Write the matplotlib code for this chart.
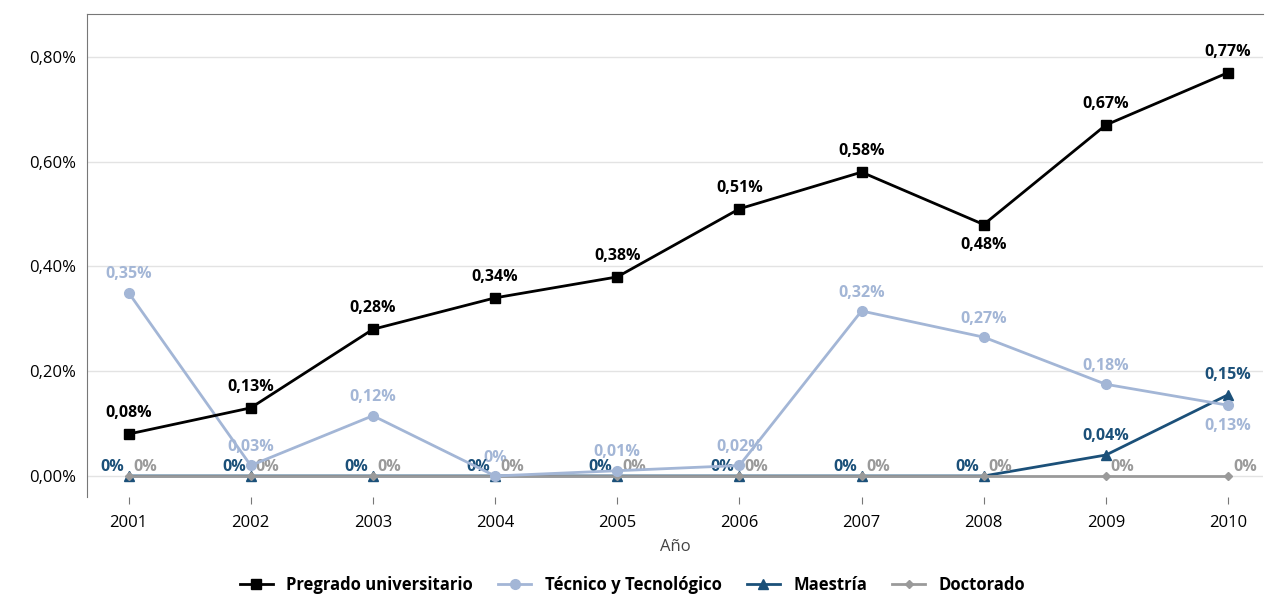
import matplotlib
matplotlib.use("Agg")
import matplotlib.pyplot as plt
from matplotlib.ticker import FuncFormatter

plt.rcParams["font.family"] = ["Open Sans", "DejaVu Sans"]

years = [2001, 2002, 2003, 2004, 2005, 2006, 2007, 2008, 2009, 2010]
pregrado = [0.08, 0.13, 0.28, 0.34, 0.38, 0.51, 0.58, 0.48, 0.67, 0.77]
tecnico = [0.35, 0.02, 0.115, 0.0, 0.01, 0.02, 0.315, 0.265, 0.175, 0.135]
tecnico_lbl = ["0,35%", "0,03%", "0,12%", "0%", "0,01%", "0,02%", "0,32%", "0,27%", "0,18%", "0,13%"]
pregrado_lbl = ["0,08%", "0,13%", "0,28%", "0,34%", "0,38%", "0,51%", "0,58%", "0,48%", "0,67%", "0,77%"]
maestria = [0, 0, 0, 0, 0, 0, 0, 0, 0.04, 0.155]
maestria_lbl = ["0%"] * 8 + ["0,04%", "0,15%"]
doctorado = [0] * 10

c_pre, c_tec, c_mae, c_doc = "#000000", "#a3b6d6", "#1b5079", "#9a9a9a"

fig = plt.figure(figsize=(12.65, 6.06), dpi=100)
ax = fig.add_axes([0.0688, 0.18, 0.93, 0.797])

ax.plot(years, maestria, color=c_mae, marker="^", ms=7, lw=2, label="Maestría", zorder=2)
ax.plot(years, doctorado, color=c_doc, marker="D", ms=4, lw=2, label="Doctorado", zorder=3)
ax.plot(years, tecnico, color=c_tec, marker="o", ms=7, lw=2, label="Técnico y Tecnológico", zorder=4)
ax.plot(years, pregrado, color=c_pre, marker="s", ms=7, lw=2, label="Pregrado universitario", zorder=5)

fs = 11.5
for i, y in enumerate(years):
    dy = -0.04 if i == 7 else 0.04
    ax.text(y, pregrado[i] + dy, pregrado_lbl[i], ha="center", va="center",
            fontsize=fs, fontweight="bold", color=c_pre)
    dy = -0.04 if i == 9 else 0.035
    ax.text(y, tecnico[i] + dy, tecnico_lbl[i], ha="center", va="center",
            fontsize=fs, fontweight="bold", color=c_tec)
    if i < 8:
        ax.text(y - 0.04, maestria[i] + 0.018, maestria_lbl[i], ha="right", va="center",
                fontsize=fs, fontweight="bold", color=c_mae)
    else:
        ax.text(y, maestria[i] + 0.037, maestria_lbl[i], ha="center", va="center",
                fontsize=fs, fontweight="bold", color=c_mae)
    ax.text(y + 0.04, doctorado[i] + 0.018, "0%", ha="left", va="center",
            fontsize=fs, fontweight="bold", color=c_doc)

ax.set_xlim(2001 - 0.34, 2010 + 0.29)
ax.set_ylim(-0.040, 0.882)
ax.set_yticks([0, 0.2, 0.4, 0.6, 0.8])
ax.yaxis.set_major_formatter(FuncFormatter(lambda v, p: f"{v:.2f}%".replace(".", ",")))
ax.set_xticks(years)
ax.grid(axis="y", color="#e3e3e3", lw=1)
ax.set_axisbelow(True)
for s in ["right", "bottom"]:
    ax.spines[s].set_visible(False)
for s in ["left", "top"]:
    ax.spines[s].set_color("#777777")
ax.tick_params(axis="both", labelsize=12, length=0, pad=8)
ax.tick_params(axis="x", length=5, color="#777777")
ax.set_xlabel("Año", fontsize=12, color="#444444", labelpad=6)

h, l = ax.get_legend_handles_labels()
order = [3, 2, 0, 1]
leg = fig.legend([h[k] for k in order], [l[k] for k in order], loc="lower center",
                 bbox_to_anchor=(0.5, -0.005), ncol=4,
                 frameon=False, fontsize=12, handlelength=2, columnspacing=1.5)
for t in leg.get_texts():
    t.set_fontweight("bold")

fig.savefig("out.png", dpi=100)
